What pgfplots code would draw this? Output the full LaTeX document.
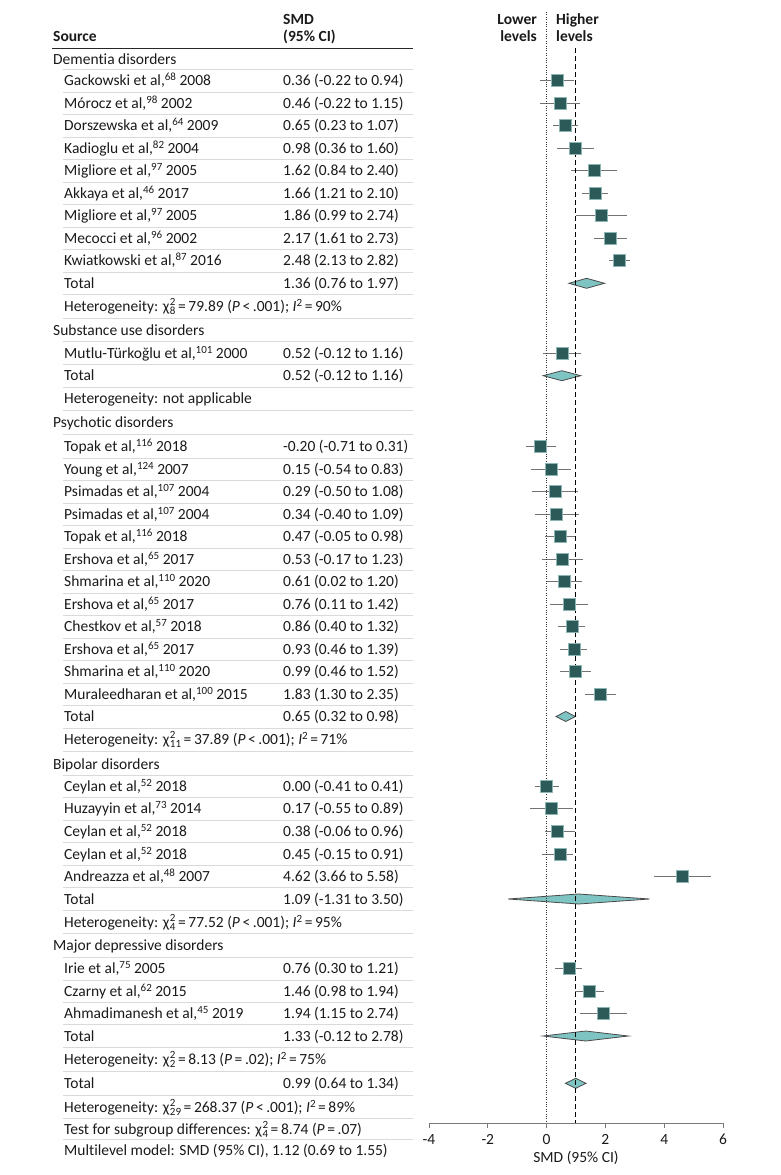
\documentclass[border=0pt]{standalone}
\usepackage{fontspec}
\setmainfont{Carlito}[Ligatures=NoCommon]
\usepackage{pgfplots}
\usepackage{pgfplotstable}
\pgfplotsset{compat=1.18}
\definecolor{sq}{HTML}{2B5A58}
\definecolor{sqline}{HTML}{8DB5B3}
\definecolor{dia}{HTML}{7EC4C3}
\definecolor{diaedge}{HTML}{4A4A4A}
\definecolor{whisk}{HTML}{737373}
\definecolor{rulec}{HTML}{DADADA}
\definecolor{axisgray}{HTML}{7A7A7A}
\definecolor{txt}{HTML}{1A1A1A}
\newcommand\rf[1]{\raisebox{4.8pt}{\fontsize{11}{11}\selectfont #1}}
\newcommand\chisq[1]{χ\kern0.5pt\rlap{\raisebox{5.8pt}{\fontsize{11}{11}\selectfont 2}}\raisebox{-3.4pt}{\fontsize{11}{11}\selectfont #1}}
\newcommand\eq{\,=\,}
\newcommand\lab[3]{\node[anchor=base west,inner sep=0pt,text=txt] at ({#1pt},{-(#2+5)*1pt}) {#3};}
\newcommand\srow[3]{\lab{64}{#1}{#2}\lab{283}{#1}{#3}}
\pgfplotstableread{
x lo hi y
0.36 -0.22 0.94 -80.7
0.46 -0.22 1.15 -103.2
0.65 0.23 1.07 -125.7
0.98 0.36 1.60 -148.2
1.62 0.84 2.40 -170.7
1.66 1.21 2.10 -193.2
1.86 0.99 2.74 -215.7
2.17 1.61 2.73 -238.2
2.48 2.13 2.82 -260.7
0.52 -0.12 1.16 -353.3
-0.20 -0.71 0.31 -446.7
0.15 -0.54 0.83 -469.2
0.29 -0.50 1.08 -491.7
0.34 -0.40 1.09 -514.2
0.47 -0.05 0.98 -536.7
0.53 -0.17 1.23 -559.2
0.61 0.02 1.20 -581.7
0.76 0.11 1.42 -604.2
0.86 0.40 1.32 -626.7
0.93 0.46 1.39 -649.2
0.99 0.46 1.52 -671.7
1.83 1.30 2.35 -694.2
0.00 -0.41 0.41 -786
0.17 -0.55 0.89 -808.7
0.38 -0.06 0.96 -831.5
0.45 -0.15 0.91 -854
4.62 3.66 5.58 -876.5
0.76 0.30 1.21 -968.7
1.46 0.98 1.94 -991.3
1.94 1.15 2.74 -1013.7
}\studies
\begin{document}
\fontsize{15.5}{18}\selectfont
\begin{tikzpicture}
% rules
\foreach \y in {69.85,91.95,114.45,136.95,159.45,181.95,204.45,226.95,249.45,272,294.9,318.25,341.65,364.5,387.1,410.25,434.35,457.95,480.45,502.95,525.45,547.95,570.45,592.95,615.45,637.95,660.45,682.95,705.35,728,751.75,775,797.35,820.1,842.75,865.25,887.75,910.5,933.75,957.1,980,1002.5,1024.85,1047.5,1071.15,1095.15,1118.25,1139.75}
  {\draw[rulec,line width=0.9pt] ({63pt},{-\y*1pt}) -- ({413pt},{-\y*1pt});}
\draw[black!85,line width=1pt] (52pt,-48pt) -- (413pt,-48pt);
% header
\node[anchor=base west,inner sep=0pt,text=txt,font=\bfseries] at (53pt,-41pt) {Source};
\node[anchor=base west,inner sep=0pt,text=txt,font=\bfseries] at (283pt,-24pt) {SMD};
\node[anchor=base west,inner sep=0pt,text=txt,font=\bfseries] at (283pt,-41pt) {(95\% CI)};
\node[anchor=base east,inner sep=0pt,text=txt,font=\bfseries] at (537pt,-24pt) {Lower};
\node[anchor=base east,inner sep=0pt,text=txt,font=\bfseries] at (537pt,-41pt) {levels};
\node[anchor=base west,inner sep=0pt,text=txt,font=\bfseries] at (556pt,-24pt) {Higher};
\node[anchor=base west,inner sep=0pt,text=txt,font=\bfseries] at (556pt,-41pt) {levels};
% dementia
\lab{53}{59}{Dementia disorders}
\srow{80.7}{Gackowski et al,\rf{68} 2008}{0.36 (-0.22 to 0.94)}
\srow{103.2}{Mórocz et al,\rf{98} 2002}{0.46 (-0.22 to 1.15)}
\srow{125.7}{Dorszewska et al,\rf{64} 2009}{0.65 (0.23 to 1.07)}
\srow{148.2}{Kadioglu et al,\rf{82} 2004}{0.98 (0.36 to 1.60)}
\srow{170.7}{Migliore et al,\rf{97} 2005}{1.62 (0.84 to 2.40)}
\srow{193.2}{Akkaya et al,\rf{46} 2017}{1.66 (1.21 to 2.10)}
\srow{215.7}{Migliore et al,\rf{97} 2005}{1.86 (0.99 to 2.74)}
\srow{238.2}{Mecocci et al,\rf{96} 2002}{2.17 (1.61 to 2.73)}
\srow{260.7}{Kwiatkowski et al,\rf{87} 2016}{2.48 (2.13 to 2.82)}
\srow{283.3}{Total}{1.36 (0.76 to 1.97)}
\lab{64}{306.5}{Heterogeneity: \chisq{8}\eq79.89 (\textit{P}\,<\,.001); \textit{I}\rf{2}\eq90\%}
% substance
\lab{53}{330}{Substance use disorders}
\srow{353.3}{Mutlu-Türkoğlu et al,\rf{101} 2000}{0.52 (-0.12 to 1.16)}
\srow{375.7}{Total}{0.52 (-0.12 to 1.16)}
\lab{64}{398.5}{Heterogeneity: not applicable}
% psychotic
\lab{53}{422}{Psychotic disorders}
\srow{446.7}{Topak et al,\rf{116} 2018}{-0.20 (-0.71 to 0.31)}
\srow{469.2}{Young et al,\rf{124} 2007}{0.15 (-0.54 to 0.83)}
\srow{491.7}{Psimadas et al,\rf{107} 2004}{0.29 (-0.50 to 1.08)}
\srow{514.2}{Psimadas et al,\rf{107} 2004}{0.34 (-0.40 to 1.09)}
\srow{536.7}{Topak et al,\rf{116} 2018}{0.47 (-0.05 to 0.98)}
\srow{559.2}{Ershova et al,\rf{65} 2017}{0.53 (-0.17 to 1.23)}
\srow{581.7}{Shmarina et al,\rf{110} 2020}{0.61 (0.02 to 1.20)}
\srow{604.2}{Ershova et al,\rf{65} 2017}{0.76 (0.11 to 1.42)}
\srow{626.7}{Chestkov et al,\rf{57} 2018}{0.86 (0.40 to 1.32)}
\srow{649.2}{Ershova et al,\rf{65} 2017}{0.93 (0.46 to 1.39)}
\srow{671.7}{Shmarina et al,\rf{110} 2020}{0.99 (0.46 to 1.52)}
\srow{694.2}{Muraleedharan et al,\rf{100} 2015}{1.83 (1.30 to 2.35)}
\srow{716.5}{Total}{0.65 (0.32 to 0.98)}
\lab{64}{739.5}{Heterogeneity: \chisq{11}\eq37.89 (\textit{P}\,<\,.001); \textit{I}\rf{2}\eq71\%}
% bipolar
\lab{53}{764}{Bipolar disorders}
\srow{786}{Ceylan et al,\rf{52} 2018}{0.00 (-0.41 to 0.41)}
\srow{808.7}{Huzayyin et al,\rf{73} 2014}{0.17 (-0.55 to 0.89)}
\srow{831.5}{Ceylan et al,\rf{52} 2018}{0.38 (-0.06 to 0.96)}
\srow{854}{Ceylan et al,\rf{52} 2018}{0.45 (-0.15 to 0.91)}
\srow{876.5}{Andreazza et al,\rf{48} 2007}{4.62 (3.66 to 5.58)}
\srow{899}{Total}{1.09 (-1.31 to 3.50)}
\lab{64}{922}{Heterogeneity: \chisq{4}\eq77.52 (\textit{P}\,<\,.001); \textit{I}\rf{2}\eq95\%}
% mdd
\lab{53}{945.5}{Major depressive disorders}
\srow{968.7}{Irie et al,\rf{75} 2005}{0.76 (0.30 to 1.21)}
\srow{991.3}{Czarny et al,\rf{62} 2015}{1.46 (0.98 to 1.94)}
\srow{1013.7}{Ahmadimanesh et al,\rf{45} 2019}{1.94 (1.15 to 2.74)}
\srow{1036}{Total}{1.33 (-0.12 to 2.78)}
\lab{64}{1059}{Heterogeneity: \chisq{2}\eq8.13 (\textit{P}\eq.02); \textit{I}\rf{2}\eq75\%}
% overall
\srow{1083.3}{Total}{0.99 (0.64 to 1.34)}
\lab{64}{1107}{Heterogeneity: \chisq{29}\eq268.37 (\textit{P}\,<\,.001); \textit{I}\rf{2}\eq89\%}
\lab{64}{1129.5}{Test for subgroup differences: \chisq{4}\eq8.74 (\textit{P}\eq.07)}
\lab{64}{1150}{Multilevel model: SMD (95\% CI), 1.12 (0.69 to 1.55)}

\begin{axis}[at={(429pt,-12pt)}, anchor=north west, scale only axis,
  width=294pt, height=1111pt, xmin=-4, xmax=6, ymin=-1123, ymax=-12,
  clip=false, axis x line=bottom, axis y line=none,
  axis line style={-, draw=axisgray, line width=1pt},
  xtick={-4,-2,0,2,4,6}, xticklabels={-4,-2,0,2,4,6},
  tick style={draw=axisgray, line width=1pt}, major tick length=5pt, tick align=outside,
  xticklabel style={text=txt, yshift=-1pt}, ytick=\empty]
\addplot[draw=none, mark=square*, mark size=6pt,
  mark options={fill=sq, draw=sqline, line width=0.6pt},
  error bars/.cd, x dir=both, x explicit, error mark=none,
  error bar style={draw=whisk, line width=1pt}]
  table[x=x, y=y, x error plus expr=\thisrow{hi}-\thisrow{x}, x error minus expr=\thisrow{x}-\thisrow{lo}] {\studies};
\addplot[fill=dia, draw=diaedge, line width=0.8pt] coordinates {(0.76,-283.3) (1.36,-278.3) (1.97,-283.3) (1.36,-288.3)} -- cycle;
\addplot[fill=dia, draw=diaedge, line width=0.8pt] coordinates {(-0.12,-375.7) (0.52,-370.7) (1.16,-375.7) (0.52,-380.7)} -- cycle;
\addplot[fill=dia, draw=diaedge, line width=0.8pt] coordinates {(0.32,-716.5) (0.65,-711.5) (0.98,-716.5) (0.65,-721.5)} -- cycle;
\addplot[fill=dia, draw=diaedge, line width=0.8pt] coordinates {(-1.31,-899) (1.09,-894) (3.50,-899) (1.09,-904)} -- cycle;
\addplot[fill=dia, draw=diaedge, line width=0.8pt] coordinates {(-0.12,-1036) (1.33,-1031) (2.78,-1036) (1.33,-1041)} -- cycle;
\addplot[fill=dia, draw=diaedge, line width=0.8pt] coordinates {(0.64,-1083.3) (0.99,-1078.3) (1.34,-1083.3) (0.99,-1088.3)} -- cycle;
\addplot[black!80, line width=0.8pt, dash pattern=on 0.8pt off 1.6pt] coordinates {(0,-12) (0,-1123)};
\addplot[black, line width=1.4pt, dash pattern=on 5pt off 3pt] coordinates {(0.99,-48) (0.99,-1123)};
\node[anchor=base, inner sep=0pt, text=txt] at (axis cs:1,-1162) {SMD (95\% CI)};
\end{axis}
\pgfresetboundingbox
\path (0,0) rectangle (780pt,-1175pt);
\end{tikzpicture}
\end{document}
